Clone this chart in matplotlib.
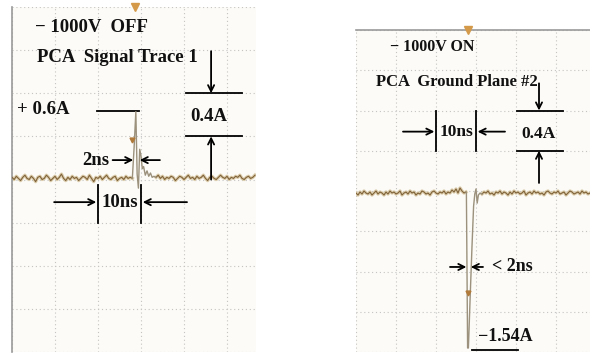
import numpy as np
import matplotlib
matplotlib.use("Agg")
import matplotlib.pyplot as plt

# scope settings: 10 ns/div, 0.4 A/div
ns_per_div = 10
amp_per_div = 0.4
step = 0.5  # ns between baseline samples

# left screen: -1000V OFF, signal trace 1 (values in A)
left_pre = [0.02, 0.00, 0.03, 0.01, -0.01, 0.02, 0.04, 0.01, 0.00, 0.03, 0.01, -0.02,
            0.02, 0.03, 0.00, 0.01, 0.04, 0.02, -0.01, 0.01, 0.03, 0.00, 0.02, 0.05,
            0.01, -0.01, 0.02, 0.00, 0.03, 0.01, 0.02, -0.01, 0.01, 0.03, 0.02, 0.00,
            0.04, 0.01, -0.02, 0.02, 0.01, 0.03, 0.00, 0.02, 0.04, 0.01, 0.00, 0.02,
            0.03, -0.01, 0.01, 0.02, 0.00, 0.03, 0.01, 0.02, 0.01]
left_spike_t = [28.0, 28.4, 28.8, 29.1, 29.4, 29.7, 30.0, 30.3, 30.6, 31.0, 31.4, 31.8, 32.2, 32.6, 33.0]
left_spike_i = [0.02, 0.30, 0.63, 0.05, -0.08, 0.28, 0.22, 0.10, 0.12, 0.04, 0.08, 0.03, 0.06, 0.02, 0.03]
left_post = [0.02, 0.04, 0.01, 0.03, 0.00, 0.02, 0.01, 0.03, 0.02, -0.01, 0.01, 0.03,
             0.02, 0.00, 0.02, 0.04, 0.01, 0.02, 0.00, 0.03, 0.01, 0.02, 0.04, 0.01,
             -0.01, 0.02, 0.03, 0.01, 0.00, 0.02, 0.04, 0.02, 0.01, 0.03, 0.00, 0.02,
             0.01, 0.03, 0.02, 0.04, 0.01, 0.00, 0.02, 0.03, 0.01, 0.02, 0.04]

# right screen: -1000V ON, ground plane #2
right_pre = [-0.02, -0.04, -0.01, -0.03, 0.00, -0.02, -0.03, -0.01, -0.04, -0.02, 0.00, -0.03,
             -0.01, -0.02, -0.04, -0.01, -0.03, 0.00, -0.02, -0.01, -0.03, -0.02, 0.00, -0.04,
             -0.02, -0.01, -0.03, 0.00, -0.02, -0.01, -0.04, -0.02, -0.03, 0.00, -0.01, -0.03,
             -0.02, -0.04, -0.01, 0.00, -0.02, -0.03, -0.01, -0.02, 0.00, -0.03, -0.01, -0.02,
             0.01, -0.01, 0.02, -0.02, 0.03, 0.00, -0.02, -0.01]
right_spike_t = [27.6, 27.9, 28.1, 28.5, 29.0, 29.4, 29.7, 30.0, 30.3, 30.6, 31.0]
right_spike_i = [-0.02, -1.56, -1.56, -1.10, -0.55, -0.15, -0.03, 0.02, -0.12, -0.04, -0.02]
right_post = [-0.03, -0.01, -0.02, 0.00, -0.03, -0.02, -0.04, -0.01, -0.02, 0.00, -0.03, -0.01,
              -0.02, -0.04, -0.01, -0.03, 0.00, -0.02, -0.01, -0.03, -0.02, 0.00, -0.04, -0.02,
              -0.01, -0.03, 0.00, -0.02, -0.01, -0.03, -0.02, -0.04, -0.01, 0.00, -0.02, -0.03,
              -0.01, -0.02, 0.00, -0.03, -0.02, -0.01, -0.04, -0.02, 0.00, -0.01, -0.03, -0.02,
              -0.01, -0.03, 0.00, -0.02, -0.01, -0.03, -0.02]

trace_col = "#7f6238"
halo_col = "#dccdad"
spike_col = "#9b917c"
serif = "Liberation Serif"


def draw_trace(ax, pre, spike_t, spike_i, post):
    t_pre = np.arange(len(pre)) * step
    t_post = spike_t[-1] + step + np.arange(len(post)) * step
    # fuzzy baseline on both sides, thin fast spike in between
    for tt, ii in ((t_pre, pre), (t_post, post)):
        ax.plot(tt, ii, color=halo_col, lw=2.4, zorder=2)
        ax.plot(tt, ii, color=trace_col, lw=0.8, zorder=3)
    ax.plot(np.concatenate([[t_pre[-1]], spike_t, [t_post[0]]]),
            np.concatenate([[pre[-1]], spike_i, [post[0]]]),
            color=spike_col, lw=1.0, zorder=3)


def scope(ax, xmax, spine):
    ax.set_facecolor("#fcfbf7")
    ax.set_xlim(0, xmax)
    ax.set_ylim(-4 * amp_per_div, 4 * amp_per_div)
    ax.set_xticks(np.arange(0, xmax, ns_per_div))
    ax.set_yticks(np.arange(-4, 5) * amp_per_div)
    ax.tick_params(length=0, labelbottom=False, labelleft=False)
    ax.grid(True, color="#c4c4c4", linestyle=(0, (1, 2.5)), linewidth=0.8)
    for s in ax.spines.values():
        s.set_visible(False)
    ax.spines[spine].set_visible(True)
    ax.spines[spine].set_color("#9a9a9a")
    ax.spines[spine].set_linewidth(1.2)


def arrow(ax, x0, y0, x1, y1):
    ax.annotate("", xy=(x1, y1), xytext=(x0, y0),
                arrowprops=dict(arrowstyle="->", color="black", lw=1.3,
                                shrinkA=0, shrinkB=0, mutation_scale=11))


fig = plt.figure(figsize=(5.9, 3.56), dpi=100)
fig.patch.set_facecolor("white")

# ---- left screen ----
axl = fig.add_axes([12 / 590, 4 / 356, 244 / 590, 345 / 356])
scope(axl, 244 / 4.3, "left")
draw_trace(axl, left_pre, left_spike_t, left_spike_i, left_post)
axl.plot([28.6], [1.6], marker="v", color="#d49a4a", ms=6, clip_on=False, zorder=4)
axl.plot([27.9], [0.37], marker="v", color="#b07a3a", ms=3.5, zorder=4)

tk = dict(family=serif, fontweight="bold", color="#111111")
axl.text(5.3, 1.41, "− 1000V  OFF", fontsize=13.5, ha="left", va="center", **tk)
axl.text(5.8, 1.13, "PCA  Signal Trace 1", fontsize=13.5, ha="left", va="center", **tk)
axl.text(1.1, 0.65, "+ 0.6A", fontsize=13.5, ha="left", va="center", **tk)
axl.plot([19.8, 29.5], [0.64, 0.64], color="black", lw=1.3)

axl.plot([40.5, 53.5], [0.8, 0.8], color="black", lw=1.3)
axl.plot([40.5, 53.5], [0.4, 0.4], color="black", lw=1.3)
axl.text(45.8, 0.58, "0.4A", fontsize=13.5, ha="center", va="center", **tk)
arrow(axl, 46.3, 1.19, 46.3, 0.8)
arrow(axl, 46.3, 0.0, 46.3, 0.4)

axl.text(22.7, 0.18, "2ns", fontsize=13.5, ha="right", va="center", **tk)
arrow(axl, 23.4, 0.18, 28.2, 0.18)
arrow(axl, 34.4, 0.18, 29.7, 0.18)

axl.plot([20, 20], [-0.05, -0.40], color="black", lw=1.3)
axl.plot([30, 30], [-0.05, -0.40], color="black", lw=1.3)
arrow(axl, 9.8, -0.21, 19.6, -0.21)
arrow(axl, 40.7, -0.21, 30.4, -0.21)
axl.text(25, -0.21, "10ns", fontsize=13.5, ha="center", va="center", **tk)

# ---- right screen ----
axr = fig.add_axes([356 / 590, 4 / 356, 234 / 590, 322 / 356])
scope(axr, 234 / 4.0, "top")
draw_trace(axr, right_pre, right_spike_t, right_spike_i, right_post)
axr.plot([28.0], [1.6], marker="v", color="#d49a4a", ms=6, clip_on=False, zorder=4)
axr.plot([28.0], [-1.01], marker="v", color="#b07a3a", ms=3.5, zorder=4)

axr.text(8.5, 1.43, "− 1000V ON", fontsize=11.5, ha="left", va="center", **tk)
axr.text(5.0, 1.08, "PCA  Ground Plane #2", fontsize=12, ha="left", va="center", **tk)

axr.plot([40.25, 51.75], [0.8, 0.8], color="black", lw=1.3)
axr.plot([40.25, 51.75], [0.4, 0.4], color="black", lw=1.3)
axr.text(45.75, 0.57, "0.4A", fontsize=12.5, ha="center", va="center", **tk)
arrow(axr, 45.75, 1.07, 45.75, 0.8)
arrow(axr, 45.75, 0.08, 45.75, 0.4)

axr.plot([20, 20], [0.4, 0.8], color="black", lw=1.3)
axr.plot([30, 30], [0.4, 0.8], color="black", lw=1.3)
arrow(axr, 11.75, 0.59, 19.6, 0.59)
arrow(axr, 37.25, 0.59, 30.4, 0.59)
axr.text(25, 0.59, "10ns", fontsize=12.5, ha="center", va="center", **tk)

arrow(axr, 23.5, -0.755, 27.6, -0.755)
arrow(axr, 31.75, -0.755, 28.7, -0.755)
axr.text(34, -0.755, "< 2ns", fontsize=13, ha="left", va="center", **tk)

axr.text(30.5, -1.45, "−1.54A", fontsize=13, ha="left", va="center", **tk)
axr.plot([29, 40.5], [-1.58, -1.58], color="black", lw=1.3)

fig.savefig("out.png", dpi=100, facecolor="white")
